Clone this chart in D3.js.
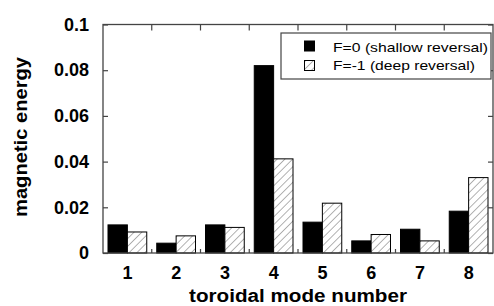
<!DOCTYPE html>
<html>
<head>
<meta charset="utf-8">
<script src="https://cdn.jsdelivr.net/npm/d3@7"></script>
<style>
  html, body { margin: 0; padding: 0; background: #fff; }
  svg { display: block; }
  text { font-family: "Liberation Sans", Arial, Helvetica, sans-serif; fill: #000; }
</style>
</head>
<body>
<script>
const modes = [1, 2, 3, 4, 5, 6, 7, 8];
const shallowValues = [0.0123, 0.0043, 0.0123, 0.082, 0.0135, 0.0053, 0.0104, 0.0183];
const deepValues = [0.0092, 0.0075, 0.0112, 0.0412, 0.0218, 0.0081, 0.0053, 0.033];
const yTicks = [0, 0.02, 0.04, 0.06, 0.08, 0.1];
const yTickLabels = ["0", "0.02", "0.04", "0.06", "0.08", "0.1"];
const seriesNames = ["F=0 (shallow reversal)", "F=-1 (deep reversal)"];

const W = 494, H = 306;
const mLeft = 103, mRight = 493, mTop = 24.5, mBottom = 253;

const svg = d3.select("body").append("svg").attr("width", W).attr("height", H);

const defs = svg.append("defs");
const pat = defs.append("pattern")
  .attr("id", "hatch").attr("patternUnits", "userSpaceOnUse")
  .attr("width", 5.5).attr("height", 5.5)
  .attr("patternTransform", "rotate(45)");
pat.append("rect").attr("width", 5.5).attr("height", 5.5).attr("fill", "#fff");
pat.append("line").attr("x1", 0).attr("y1", 0).attr("x2", 0).attr("y2", 5.5)
  .attr("stroke", "#555").attr("stroke-width", 0.9);

const x = d3.scaleBand().domain(modes).range([mLeft, mRight]).padding(0);
const bw = x.bandwidth();
const xi = d3.scaleBand().domain([0, 1]).range([5, bw - 5]).padding(0);
const y = d3.scaleLinear().domain([0, 0.1]).range([mBottom, mTop]);

const frameColor = "#444";

// bars
const g = svg.append("g");
modes.forEach((m, i) => {
  const vals = [shallowValues[i], deepValues[i]];
  vals.forEach((v, k) => {
    g.append("rect")
      .attr("x", x(m) + xi(k))
      .attr("y", y(v))
      .attr("width", xi.bandwidth())
      .attr("height", y(0) - y(v))
      .attr("fill", k === 0 ? "#000" : "url(#hatch)")
      .attr("stroke", "#000")
      .attr("stroke-width", 1);
  });
});

// frame
svg.append("rect").attr("x", mLeft).attr("y", mTop)
  .attr("width", mRight - mLeft).attr("height", mBottom - mTop)
  .attr("fill", "none").attr("stroke", frameColor).attr("stroke-width", 1.3);

// left axis (ticks inward)
const yAxisL = d3.axisLeft(y).tickValues(yTicks).tickSize(-5)
  .tickFormat((d, i) => yTickLabels[i]).tickPadding(14);
const gl = svg.append("g").attr("transform", `translate(${mLeft},0)`).call(yAxisL);
gl.select(".domain").remove();
gl.selectAll(".tick line").attr("stroke", frameColor).attr("stroke-width", 1.2);
gl.selectAll(".tick text").attr("font-size", 18).attr("font-weight", "bold")
  .attr("font-family", '"Liberation Sans", Arial, sans-serif').attr("fill", "#111");

// right axis ticks inward
const yAxisR = d3.axisRight(y).tickValues(yTicks).tickSize(-5).tickFormat("");
const gr = svg.append("g").attr("transform", `translate(${mRight},0)`).call(yAxisR);
gr.select(".domain").remove();
gr.selectAll(".tick line").attr("stroke", frameColor).attr("stroke-width", 1.2);

// bottom / top ticks at category boundaries
const boundaries = modes.slice(1).map(m => x(m));
svg.append("g").selectAll("line").data(boundaries).join("line")
  .attr("x1", d => d).attr("x2", d => d).attr("y1", mBottom).attr("y2", mBottom - 4)
  .attr("stroke", frameColor).attr("stroke-width", 1.2);
svg.append("g").selectAll("line").data(boundaries).join("line")
  .attr("x1", d => d).attr("x2", d => d).attr("y1", mTop).attr("y2", mTop + 6)
  .attr("stroke", frameColor).attr("stroke-width", 1.2);

// x tick labels
const xAxis = d3.axisBottom(x).tickSize(0).tickPadding(13);
const gx = svg.append("g").attr("transform", `translate(0,${mBottom})`).call(xAxis);
gx.select(".domain").remove();
gx.selectAll(".tick text").attr("font-size", 18).attr("font-weight", "bold")
  .attr("font-family", '"Liberation Sans", Arial, sans-serif').attr("fill", "#111");

// axis titles
svg.append("text").attr("x", 298).attr("y", 302)
  .attr("text-anchor", "middle").attr("font-size", 17.5).attr("font-weight", "bold")
  .attr("textLength", 218).attr("lengthAdjust", "spacingAndGlyphs")
  .attr("fill", "#111")
  .text("toroidal mode number");
svg.append("text")
  .attr("transform", "translate(27,137) rotate(-90)")
  .attr("text-anchor", "middle").attr("font-size", 18).attr("font-weight", "bold")
  .attr("textLength", 160).attr("lengthAdjust", "spacingAndGlyphs")
  .attr("fill", "#111")
  .text("magnetic energy");

// legend
const lg = svg.append("g");
lg.append("rect").attr("x", 281).attr("y", 33).attr("width", 210).attr("height", 46)
  .attr("fill", "#fff").attr("stroke", frameColor).attr("stroke-width", 1.2);
lg.append("rect").attr("x", 304.5).attr("y", 41).attr("width", 10).attr("height", 10)
  .attr("fill", "#000").attr("stroke", "#000");
lg.append("rect").attr("x", 304.5).attr("y", 60.5).attr("width", 10).attr("height", 10)
  .attr("fill", "url(#hatch)").attr("stroke", "#000");
const textLens = [155, 142];
seriesNames.forEach((s, i) => {
  lg.append("text").attr("x", 333).attr("y", 51.5 + i * 18.5)
    .attr("font-size", 13).attr("fill", "#222")
    .attr("textLength", textLens[i]).attr("lengthAdjust", "spacingAndGlyphs")
    .text(s);
});
</script>
</body>
</html>
